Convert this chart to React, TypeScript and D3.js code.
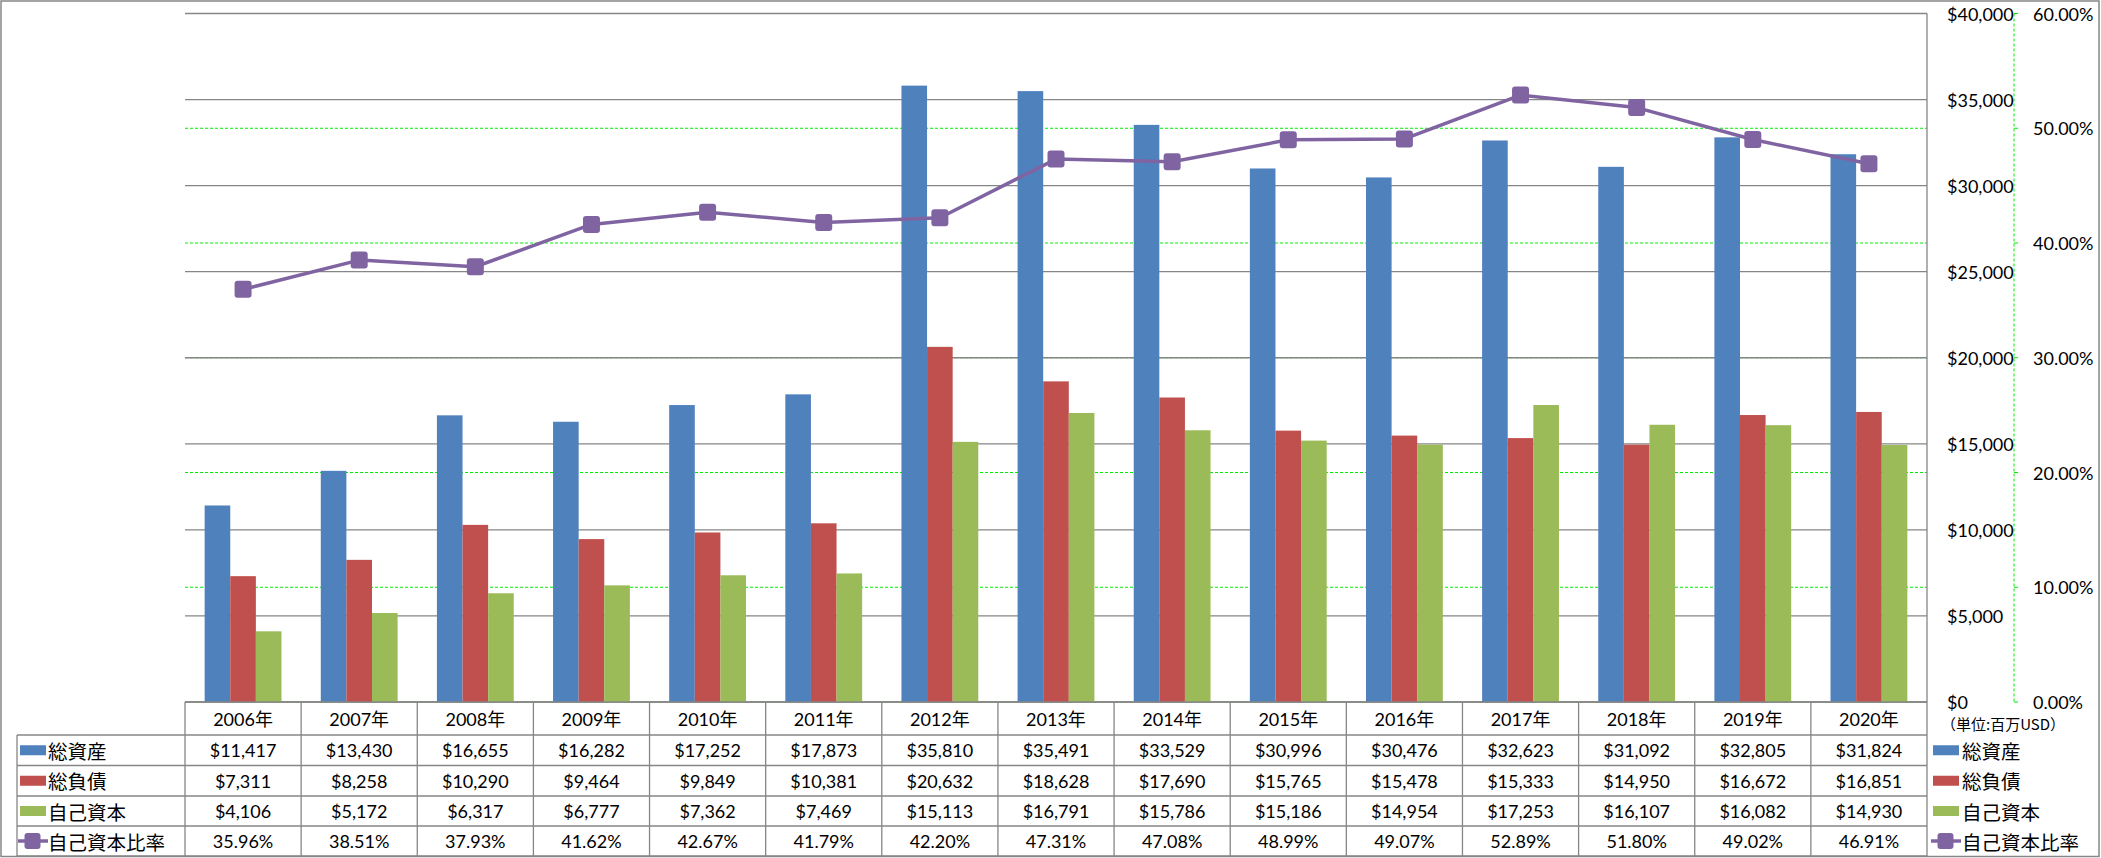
import React, { useEffect } from "react";
import * as d3 from "d3";

const years = ["2006年","2007年","2008年","2009年","2010年","2011年","2012年","2013年","2014年","2015年","2016年","2017年","2018年","2019年","2020年"];
const totalAssets = [11417,13430,16655,16282,17252,17873,35810,35491,33529,30996,30476,32623,31092,32805,31824];
const totalLiabilities = [7311,8258,10290,9464,9849,10381,20632,18628,17690,15765,15478,15333,14950,16672,16851];
const equity = [4106,5172,6317,6777,7362,7469,15113,16791,15786,15186,14954,17253,16107,16082,14930];
const equityRatio = [35.96,38.51,37.93,41.62,42.67,41.79,42.20,47.31,47.08,48.99,49.07,52.89,51.80,49.02,46.91];
const leftTicks = [0,5000,10000,15000,20000,25000,30000,35000,40000];
const rightTicks = [0,10,20,30,40,50,60];
const seriesNames = ["総資産","総負債","自己資本"];
const lineName = "自己資本比率";
const unitLabel = "（単位:百万USD）";

const COLORS = ["#4F81BD", "#C0504D", "#9BBB59"];
const PURPLE = "#8064A2";
const GRID = "#868686";
const GREEN = "#00EE00";
const FONT = "Lato, 'Noto Sans CJK JP', sans-serif";
const JFONT = "'Noto Sans CJK JP', sans-serif";

export default function App() {
  useEffect(() => {
    document.body.style.margin = "0";
    document.body.style.overflow = "hidden";
  }, []);

  const W = 2101, H = 858;
  const plotL = 185, plotR = 1927, plotT = 13.5, plotB = 702;
  const x = d3.scaleBand<string>().domain(years).range([plotL, plotR]).paddingInner(0).paddingOuter(0);
  const bw = x.bandwidth();
  const barW = bw / 4.535;
  const xs = d3.scaleBand<string>().domain(seriesNames).range([(bw - 3 * barW) / 2, (bw + 3 * barW) / 2]);
  const yL = d3.scaleLinear().domain([0, 40000]).range([plotB, plotT]);
  const yR = d3.scaleLinear().domain([0, 60]).range([plotB, plotT]);
  const series = [totalAssets, totalLiabilities, equity];
  const fmtD = (v: number) => "$" + d3.format(",")(v);
  const fmtP = (v: number) => d3.format(".2f")(v) + "%";

  const rowTops = [735, 765.5, 796, 826, 856];
  const headerTop = 702;
  const tableL = 17;
  const axisX = 2014;

  const lineGen = d3.line<number>()
    .x((_, i) => (x(years[i]) as number) + bw / 2)
    .y((d) => yR(d));

  const rowData: { label: string; vals: string[] }[] = [
    { label: seriesNames[0], vals: totalAssets.map(fmtD) },
    { label: seriesNames[1], vals: totalLiabilities.map(fmtD) },
    { label: seriesNames[2], vals: equity.map(fmtD) },
    { label: lineName, vals: equityRatio.map(fmtP) },
  ];

  const legendKey = (i: number, kx: number, cy: number) =>
    i < 3 ? (
      <rect x={kx} y={cy - 5} width={26} height={10} fill={COLORS[i]} />
    ) : (
      <g>
        <line x1={kx - 2} x2={kx + 28} y1={cy} y2={cy} stroke={PURPLE} strokeWidth={3.5} />
        <rect x={kx + 4.5} y={cy - 8} width={16} height={16} rx={3} fill={PURPLE} />
      </g>
    );

  return (
    <svg width={W} height={H} style={{ position: "absolute", left: 0, top: 0, background: "#fff" }}>
      <rect x={0} y={0} width={W} height={H} fill="#fff" />
      <rect x={1} y={1} width={2098} height={855.5} fill="none" stroke={GRID} strokeWidth={1.5} />

      {/* green dashed gridlines (right axis) */}
      {rightTicks.map((t) => (
        <line key={"gr" + t} x1={plotL} x2={plotR} y1={yR(t)} y2={yR(t)} stroke={GREEN} strokeWidth={1} strokeDasharray="3,2" />
      ))}
      {/* gray gridlines */}
      {leftTicks.map((t) => (
        <line key={"gl" + t} x1={plotL} x2={plotR} y1={yL(t)} y2={yL(t)} stroke={GRID} strokeWidth={1.3} />
      ))}

      {/* bars */}
      {series.map((s, si) =>
        s.map((v, i) => (
          <rect
            key={"b" + si + "-" + i}
            x={(x(years[i]) as number) + (xs(seriesNames[si]) as number)}
            y={yL(v)}
            width={barW}
            height={plotB - yL(v)}
            fill={COLORS[si]}
          />
        ))
      )}

      {/* line */}
      <path d={lineGen(equityRatio) || ""} fill="none" stroke={PURPLE} strokeWidth={3.5} strokeLinejoin="round" />
      {equityRatio.map((v, i) => (
        <rect
          key={"m" + i}
          x={(x(years[i]) as number) + bw / 2 - 8.5}
          y={yR(v) - 8.5}
          width={17}
          height={17}
          rx={3}
          fill={PURPLE}
        />
      ))}

      {/* plot right border */}
      <line x1={plotR} x2={plotR} y1={plotT} y2={856} stroke={GRID} strokeWidth={1.3} />

      {/* right axes */}
      <line x1={axisX} x2={axisX} y1={plotT} y2={plotB} stroke={GREEN} strokeWidth={1} strokeDasharray="3,2" />
      {rightTicks.map((t) => (
        <line key={"rt" + t} x1={axisX} x2={axisX + 4} y1={yR(t)} y2={yR(t)} stroke={GREEN} strokeWidth={1} />
      ))}
      {leftTicks.map((t) => (
        <text key={"lt" + t} x={1947} y={yL(t)} dominantBaseline="central" fontFamily={FONT} fontSize={18} fill="#000">
          {fmtD(t)}
        </text>
      ))}
      {rightTicks.map((t) => (
        <text key={"rtl" + t} x={2033} y={yR(t)} dominantBaseline="central" fontFamily={FONT} fontSize={18} fill="#000">
          {fmtP(t)}
        </text>
      ))}
      <text x={1941} y={723} dominantBaseline="central" fontFamily={JFONT} fontSize={15} fill="#000">
        {unitLabel}
      </text>

      {/* data table */}
      <line x1={plotL} x2={plotR} y1={headerTop} y2={headerTop} stroke={GRID} strokeWidth={1.3} />
      {rowTops.map((y, i) => (
        <line key={"rl" + i} x1={tableL} x2={plotR} y1={y} y2={y} stroke={GRID} strokeWidth={1.3} />
      ))}
      <line x1={tableL} x2={tableL} y1={rowTops[0]} y2={856} stroke={GRID} strokeWidth={1.3} />
      {years.map((yr) => (
        <line key={"cl" + yr} x1={x(yr) as number} x2={x(yr) as number} y1={headerTop} y2={856} stroke={GRID} strokeWidth={1.3} />
      ))}
      {years.map((yr) => (
        <text key={"yh" + yr} x={(x(yr) as number) + bw / 2} y={(headerTop + rowTops[0]) / 2} textAnchor="middle" dominantBaseline="central" fontFamily={FONT} fontSize={18} fill="#000">
          {yr}
        </text>
      ))}
      {rowData.map((r, ri) => {
        const cy = (rowTops[ri] + rowTops[ri + 1]) / 2;
        return (
          <g key={"row" + ri}>
            {legendKey(ri, 20, cy)}
            <text x={48} y={cy} dominantBaseline="central" fontFamily={JFONT} fontSize={19.5} fill="#000">
              {r.label}
            </text>
            {r.vals.map((v, i) => (
              <text key={"c" + i} x={(x(years[i]) as number) + bw / 2} y={cy} textAnchor="middle" dominantBaseline="central" fontFamily={FONT} fontSize={18} fill="#000">
                {v}
              </text>
            ))}
            {legendKey(ri, 1933, cy)}
            <text x={1962} y={cy} dominantBaseline="central" fontFamily={JFONT} fontSize={19.5} fill="#000">
              {r.label}
            </text>
          </g>
        );
      })}
    </svg>
  );
}
